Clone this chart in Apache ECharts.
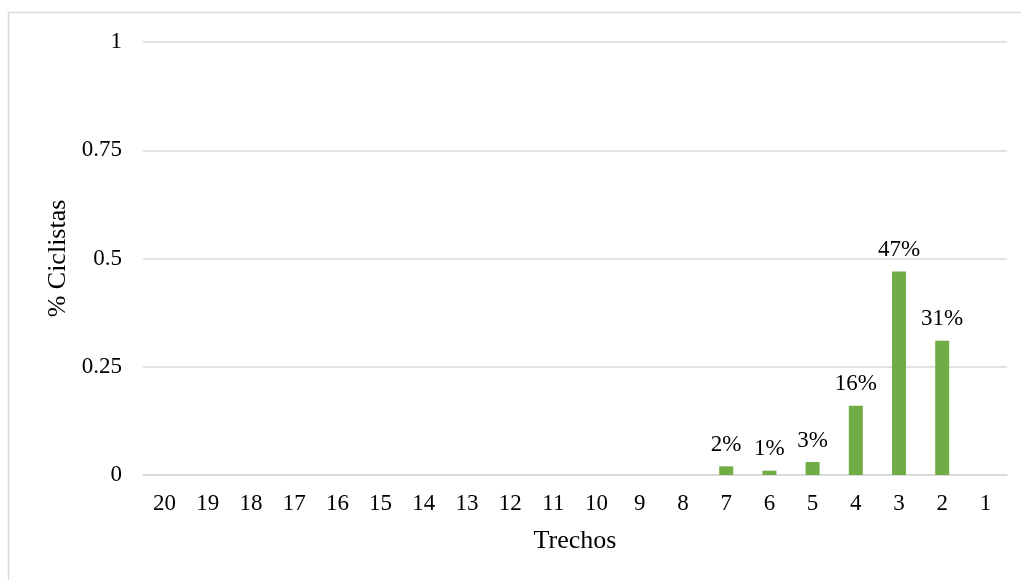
<!DOCTYPE html>
<html>
<head>
<meta charset="utf-8">
<script src="https://cdn.jsdelivr.net/npm/echarts@6/dist/echarts.min.js"></script>
<style>
  html, body { margin: 0; padding: 0; background: #ffffff; }
  #chart { width: 1021px; height: 580px; }
</style>
</head>
<body>
<div id="chart"></div>
<script>
// Road segments, listed from 20 down to 1
const trechos = ['20', '19', '18', '17', '16', '15', '14', '13', '12', '11',
                 '10', '9', '8', '7', '6', '5', '4', '3', '2', '1'];
// Share of cyclists per segment (null = no bar)
const ciclistas = [null, null, null, null, null, null, null, null, null, null,
                   null, null, null, 0.02, 0.01, 0.03, 0.16, 0.47, 0.31, null];
// Value-axis ticks
const yTicks = [0, 0.25, 0.5, 0.75, 1];

const serif = '"Liberation Serif", "Times New Roman", serif';
const chart = echarts.init(document.getElementById('chart'), null, { renderer: 'canvas' });

chart.setOption({
  animation: false,
  backgroundColor: '#ffffff',
  graphic: [{
    type: 'rect',
    shape: { x: 8.5, y: 12.5, width: 1040, height: 600 },
    style: { fill: 'none', stroke: '#d9d9d9', lineWidth: 1.5 },
    silent: true
  }],
  grid: { left: 143, right: 14, top: 42, bottom: 105, containLabel: false },
  xAxis: {
    type: 'category',
    data: trechos,
    name: 'Trechos',
    nameLocation: 'middle',
    nameGap: 53,
    nameTextStyle: { fontFamily: serif, fontSize: 26, color: '#000000' },
    axisLine: { show: true, lineStyle: { color: '#d9d9d9', width: 1.5 } },
    axisTick: { show: false },
    axisLabel: { fontFamily: serif, fontSize: 23, color: '#000000', margin: 17 }
  },
  yAxis: {
    type: 'value',
    min: yTicks[0],
    max: yTicks[yTicks.length - 1],
    interval: yTicks[1] - yTicks[0],
    name: '% Ciclistas',
    nameLocation: 'middle',
    nameGap: 70,
    nameTextStyle: { fontFamily: serif, fontSize: 26, color: '#000000' },
    axisLine: { show: false },
    axisTick: { show: false },
    axisLabel: { fontFamily: serif, fontSize: 23, color: '#000000', margin: 21 },
    splitLine: { lineStyle: { color: '#d9d9d9', width: 1.5 } }
  },
  series: [{
    type: 'bar',
    data: ciclistas,
    barWidth: 14,
    itemStyle: { color: '#70ad47' },
    label: {
      show: true,
      position: 'top',
      distance: 10,
      fontFamily: serif,
      fontSize: 23,
      color: '#000000',
      formatter: p => Math.round(p.value * 100) + '%'
    }
  }]
});
</script>
</body>
</html>
